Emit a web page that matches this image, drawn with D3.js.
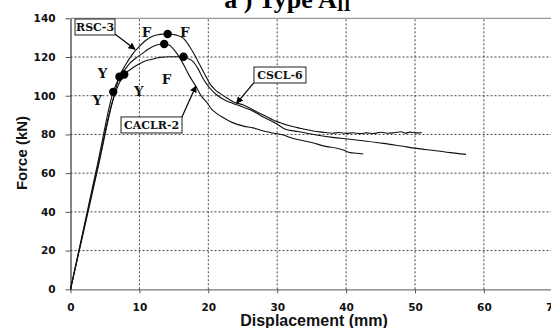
<!DOCTYPE html>
<html>
<head>
<meta charset="utf-8">
<script src="https://cdn.jsdelivr.net/npm/d3@7"></script>
<style>
  html, body { margin: 0; padding: 0; background: #fff; }
  svg { display: block; }
</style>
</head>
<body>
<svg id="chart" width="551" height="328"></svg>
<script>
// Force–displacement curves of three Type A_II specimens (kN vs mm)
const xTicks = [0, 10, 20, 30, 40, 50, 60, 70];
const yTicks = [0, 20, 40, 60, 80, 100, 120, 140];

const rsc3 = [
  [0,0],[2,31.5],[4,63],[6,95.5],[7.1,109.8],[8,116],[9,121.5],[10,125.5],[11,128.8],
  [12,130.8],[13,131.7],[14.1,131.9],[15.4,131.3],[16.4,129.6],[17.3,125.3],[18.1,120.5],
  [18.8,115.7],[19.5,111],[20.2,106.4],[21,103],[21.7,101.2],[22.7,98.8],[23.6,96.9],
  [25.1,95.2],[27,91.7],[28.3,89.5],[29.4,87.4],[31.4,84.9],[33.3,83.2],[35,81.9],
  [36.5,81.2],[38,80.6],[39,81],[40,80.5],[41,80.9],[42,80.4],[43,80.8],[44,80.5],
  [45,81.1],[46,80.6],[47,80.9],[48,81.4],[48.6,80.7],[49.3,81.2],[50,80.8],[51,80.9]
];
const caclr2 = [
  [0,0],[2,33],[4,66],[6.2,102],[7.1,109.5],[8,114],[8.6,116.7],[9.5,119.5],[10.5,122],
  [11.1,123.6],[12.5,126.2],[13.6,126.7],[14.3,126.2],[15.4,122],[16.2,117.5],[17.3,110],
  [18.2,104.9],[19,99.8],[19.8,96.5],[20.5,93],[21.2,90.9],[22.2,88.6],[23.1,86.8],
  [24.2,85.2],[25.1,84.3],[26.5,83.4],[27.5,82.3],[29,81],[30.9,79.7],[32,78.3],
  [33.3,77.1],[35,75.8],[37.2,73.7],[38.5,73],[39.6,72],[40.6,70.6],[41.5,70.3],[42.5,69.9]
];
const cscl6 = [
  [0,0],[2,32],[4,64],[6,96],[7.8,111],[8.6,113.3],[9.5,115.5],[10.6,117.6],[12,119],
  [13,119.8],[14.5,120.1],[16.4,120.1],[17.2,119],[17.8,117.6],[18.5,114],[19.3,108.5],
  [20.2,104],[21.2,100.5],[22.5,97.5],[23.6,96],[25.1,94],[26.5,92],[28,89],[29.9,85.5],
  [31,83],[33,81.5],[35.7,79.7],[38,78.5],[40.6,77.5],[43,76.5],[45.4,75.4],[48,74],
  [50.2,72.8],[53,71.6],[55.1,70.6],[57.4,69.7]
];
const curves = [rsc3, caclr2, cscl6];

// Yield (Y) and peak (F) points marked on the curves
const yieldPoints = [[7.1,109.8],[6.2,102],[7.8,111]];
const peakPoints = [[14.1,131.9],[13.6,126.7],[16.4,120.1]];

// Letter annotations, placed in data units
const letterLabels = [
  {t:"Y", x:4.67, y:111.9},{t:"Y", x:3.9, y:97.8},{t:"Y", x:9.9, y:102.4},
  {t:"F", x:11.05, y:133},{t:"F", x:16.6, y:133},{t:"F", x:13.95, y:108.5}
];

// Boxed specimen names with leader arrows (data units)
const specimenNames = ["RSC-3", "CACLR-2", "CSCL-6"];
const boxCenters = [[3.56,135.5],[11.76,84.9],[30.4,110.7]];
const boxWidths = [40, 61, 52];
const arrowTails = [[6.45,131.9],[16.18,89.0],[26.6,106.6]];
const arrowTips = [[9.36,124.0],[18.2,105.0],[24.1,96.1]];

const svg = d3.select("#chart");
const x = d3.scaleLinear().domain([0, 70]).range([70.5, 552.8]);
const y = d3.scaleLinear().domain([0, 140]).range([289.3, 18.3]);

// arrowhead marker
svg.append("defs").append("marker")
  .attr("id", "arrowhead").attr("viewBox", "0 0 10 10")
  .attr("refX", 9).attr("refY", 5)
  .attr("markerWidth", 7).attr("markerHeight", 7)
  .attr("markerUnits", "userSpaceOnUse")
  .attr("orient", "auto")
  .append("path").attr("d", "M0,0 L10,5 L0,10 Z").attr("fill", "#000");

// grid
const grid = svg.append("g");
grid.selectAll("line.h").data(yTicks.filter(d => d > 0 && d < 140)).join("line")
  .attr("x1", x(0)).attr("x2", x(70)).attr("y1", d => y(d)).attr("y2", d => y(d))
  .attr("stroke", "#444").attr("stroke-width", 1).attr("stroke-dasharray", "2,2");
grid.selectAll("line.v").data(xTicks.filter(d => d > 0 && d < 70)).join("line")
  .attr("x1", d => x(d)).attr("x2", d => x(d)).attr("y1", y(0)).attr("y2", y(140))
  .attr("stroke", "#444").attr("stroke-width", 1).attr("stroke-dasharray", "2,2");

// top frame line
svg.append("line").attr("x1", x(0)).attr("x2", x(70)).attr("y1", y(140)).attr("y2", y(140))
  .attr("stroke", "#999").attr("stroke-width", 1.2);

// axes
const xAxis = svg.append("g").attr("transform", `translate(0,${y(0)})`)
  .call(d3.axisBottom(x).tickValues(xTicks).tickSize(4).tickPadding(10).tickSizeOuter(0));
const yAxis = svg.append("g").attr("transform", `translate(${x(0)},0)`)
  .call(d3.axisLeft(y).tickValues(yTicks).tickSize(5).tickPadding(10).tickSizeOuter(0));
xAxis.select(".domain").attr("stroke", "#777").attr("stroke-width", 1.2);
yAxis.select(".domain").attr("stroke", "#333").attr("stroke-width", 1.2);
[xAxis, yAxis].forEach(g => {
  g.selectAll(".tick line").attr("stroke", "#555");
  g.selectAll(".tick text").attr("font-family", "DejaVu Sans").attr("font-weight", "bold")
    .attr("font-size", 10.5).attr("fill", "#111");
});

// curves
const line = d3.line().x(d => x(d[0])).y(d => y(d[1])).curve(d3.curveMonotoneX);
svg.append("g").selectAll("path").data(curves).join("path")
  .attr("d", line).attr("fill", "none").attr("stroke", "#111").attr("stroke-width", 1.1);

// Y and F markers
svg.append("g").selectAll("circle").data(yieldPoints.concat(peakPoints)).join("circle")
  .attr("cx", d => x(d[0])).attr("cy", d => y(d[1])).attr("r", 4.2).attr("fill", "#000");

svg.append("g").selectAll("text").data(letterLabels).join("text")
  .attr("x", d => x(d.x)).attr("y", d => y(d.y)).attr("dy", "0.36em")
  .attr("text-anchor", "middle").attr("font-family", "DejaVu Serif").attr("font-weight", "bold")
  .attr("font-size", 13.5).attr("fill", "#111").text(d => d.t);

// leader arrows
svg.append("g").selectAll("line").data(arrowTails).join("line")
  .attr("x1", d => x(d[0])).attr("y1", d => y(d[1]))
  .attr("x2", (d, i) => x(arrowTips[i][0])).attr("y2", (d, i) => y(arrowTips[i][1]))
  .attr("stroke", "#000").attr("stroke-width", 1.2).attr("marker-end", "url(#arrowhead)");

// boxed names
const boxes = svg.append("g").selectAll("g").data(specimenNames).join("g")
  .attr("transform", (d, i) => `translate(${x(boxCenters[i][0])},${y(boxCenters[i][1])})`);
boxes.append("rect")
  .attr("x", (d, i) => -boxWidths[i] / 2).attr("y", -8).attr("width", (d, i) => boxWidths[i]).attr("height", 16)
  .attr("fill", "#fff").attr("stroke", "#222").attr("stroke-width", 1);
boxes.append("text").attr("text-anchor", "middle").attr("dy", "0.36em")
  .attr("font-family", "DejaVu Serif").attr("font-weight", "bold").attr("font-size", 11)
  .attr("fill", "#111").text(d => d);

// title
const title = svg.append("text").attr("x", 287.5).attr("y", 7.5).attr("text-anchor", "middle")
  .attr("font-family", "Liberation Serif").attr("font-weight", "bold").attr("font-size", 26).attr("fill", "#000");
title.append("tspan").text("a ) Type A");
title.append("tspan").attr("font-size", 18).attr("dy", 3).text("II");

// axis titles
svg.append("text").attr("x", 314).attr("y", 326).attr("text-anchor", "middle")
  .attr("font-family", "Liberation Sans").attr("font-weight", "bold").attr("font-size", 16)
  .attr("fill", "#111").text("Displacement (mm)");
svg.append("text").attr("transform", "translate(26.5,153) rotate(-90)").attr("text-anchor", "middle")
  .attr("font-family", "Liberation Sans").attr("font-weight", "bold").attr("font-size", 15)
  .attr("fill", "#111").text("Force (kN)");
</script>
</body>
</html>
